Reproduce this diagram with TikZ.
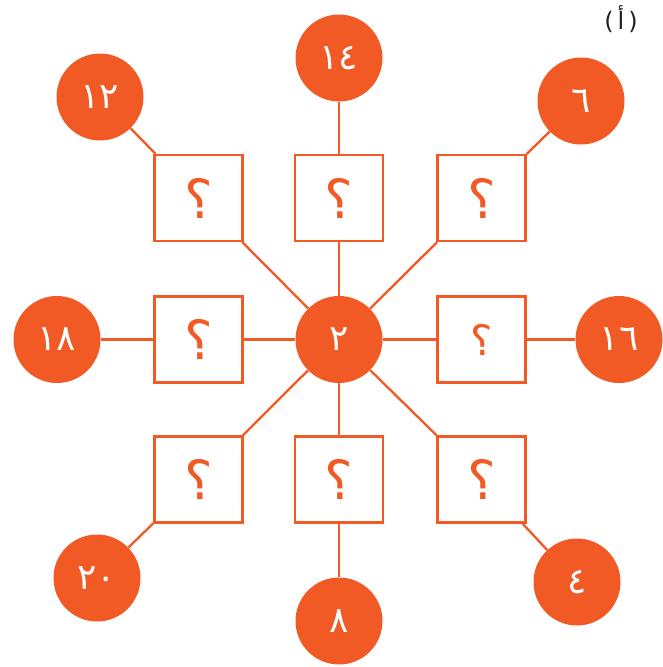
\documentclass[tikz,border=0pt]{standalone}
\usepackage{fontspec}
\newfontfamily\arabicfont[Script=Arabic]{DejaVu Sans}
\newfontfamily\plainfont{DejaVu Sans}
\TeXXeTstate=1
\definecolor{org}{RGB}{241,90,36}
\definecolor{lbl}{RGB}{35,31,32}
\begin{document}
\begin{tikzpicture}[x=1pt,y=-1pt,
  num/.style={circle,fill=org,inner sep=0pt,minimum size=87pt,text=white,font=\arabicfont\fontsize{36}{36}\selectfont},
  qbox/.style={draw=org,line width=2.3pt,fill=white,minimum width=88pt,minimum height=86pt,inner sep=0pt,text=org,font=\arabicfont\fontsize{54}{54}\selectfont},
  link/.style={draw=org,line width=2.3pt}]
\useasboundingbox (0,0) rectangle (662,667);
% boxes
\node[qbox] (btl) at (198.5,198) {\beginR ؟\endR};
\node[qbox] (bt)  at (339,198) {\beginR ؟\endR};
\node[qbox] (btr) at (481.5,198) {\beginR ؟\endR};
\node[qbox] (bl)  at (198.5,339.5) {\beginR ؟\endR};
\node[qbox,font=\arabicfont\fontsize{42}{42}\selectfont] (br) at (481.5,339.5) {\beginR ؟\endR};
\node[qbox] (bbl) at (198.5,479.5) {\beginR ؟\endR};
\node[qbox] (bb)  at (339,479.5) {\beginR ؟\endR};
\node[qbox] (bbr) at (481.5,479.5) {\beginR ؟\endR};
% circles
\node[num] (c)   at (339,339.5) {٢};
\node[num] (ntl) at (100,97)  {١٢};
\node[num] (nt)  at (339,58)  {١٤};
\node[num] (ntr) at (581,101) {٦};
\node[num] (nl)  at (57,339.5)  {١٨};
\node[num] (nr)  at (619,339.5) {١٦};
\node[num] (nbl) at (97,578)  {٢٠};
\node[num] (nb)  at (339,621) {٨};
\node[num] (nbr) at (577,582) {٤};
% connectors
\draw[link] (c) -- (btl);
\draw[link] (c) -- (bt);
\draw[link] (c) -- (btr);
\draw[link] (c) -- (bl);
\draw[link] (c) -- (br);
\draw[link] (c) -- (bbl);
\draw[link] (c) -- (bb);
\draw[link] (c) -- (bbr);
\draw[link] (ntl) -- (btl);
\draw[link] (nt) -- (bt);
\draw[link] (ntr) -- (btr);
\draw[link] (nl) -- (bl);
\draw[link] (nr) -- (br);
\draw[link] (nbl) -- (bbl);
\draw[link] (nb) -- (bb);
\draw[link] (nbr) -- (bbr);
\node[text=lbl,font=\fontsize{24}{24}\selectfont] (lab) at (621,19) {{\plainfont(}\,{\arabicfont\beginR أ\endR}\,{\plainfont)}};
\end{tikzpicture}
\end{document}
